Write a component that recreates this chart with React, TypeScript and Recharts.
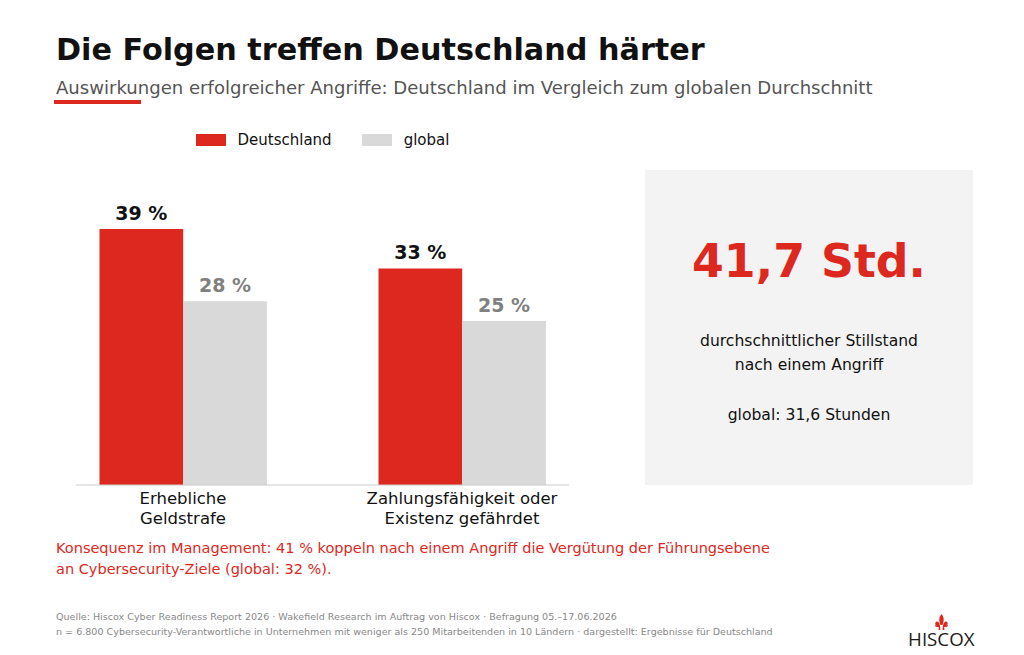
import { BarChart, Bar, XAxis, YAxis, Legend, LabelList } from "recharts";

const categories = ["Erhebliche\nGeldstrafe", "Zahlungsfähigkeit oder\nExistenz gefährdet"];
const germany = [39, 33];
const globalAvg = [28, 25];
const seriesNames = ["Deutschland", "global"];

const data = categories.map((name, i) => ({ name, de: germany[i], gl: globalAvg[i] }));

const RED = "#dc281e";
const GREY = "#d9d9d9";
const FONT = "'DejaVu Sans', sans-serif";

function CategoryTick({ x, y, payload }: any) {
  const lines = String(payload.value).split("\n");
  return (
    <text x={x} y={y} textAnchor="middle" fontSize={16.5} fontFamily={FONT} fill="#111">
      {lines.map((l, i) => (
        <tspan key={l} x={x} dy={i === 0 ? 11 : 20}>
          {l}
        </tspan>
      ))}
    </text>
  );
}

function LegendRow({ payload }: any) {
  return (
    <div style={{ display: "flex", fontFamily: FONT, fontSize: 15, color: "#111", lineHeight: "18px" }}>
      {(payload || []).map((p: any) => (
        <div key={p.value} style={{ display: "flex", alignItems: "center", marginRight: 30.5 }}>
          <span style={{ width: 30, height: 12, background: p.color, marginRight: 11.5 }} />
          {p.value}
        </div>
      ))}
    </div>
  );
}

function Text({ x, y, size, color, bold, children, center, width }: any) {
  return (
    <div
      style={{
        position: "absolute",
        left: x,
        top: y,
        width: width,
        fontFamily: FONT,
        fontSize: size,
        color,
        fontWeight: bold ? 700 : 400,
        textAlign: center ? "center" : "left",
        whiteSpace: "nowrap",
        lineHeight: 1.2,
      }}
    >
      {children}
    </div>
  );
}

export default function App() {
  return (
    <div style={{ position: "absolute", left: 0, top: 0, width: 1024, height: 655, background: "#fff", overflow: "hidden" }}>
      <Text x={56} y={32} size={30.25} color="#111" bold>Die Folgen treffen Deutschland härter</Text>
      <Text x={56} y={77} size={18.07} color="#555">Auswirkungen erfolgreicher Angriffe: Deutschland im Vergleich zum globalen Durchschnitt</Text>
      <div style={{ position: "absolute", left: 54, top: 99.5, width: 87, height: 4, background: RED }} />

      <div style={{ position: "absolute", left: 645, top: 170, width: 328, height: 315, background: "#f3f3f3" }} />
      <Text x={645} y={234} width={328} size={45.8} color={RED} bold center>41,7 Std.</Text>
      <Text x={645} y={332} width={328} size={15.6} color="#111" center>durchschnittlicher Stillstand</Text>
      <Text x={645} y={356} width={328} size={15.6} color="#111" center>nach einem Angriff</Text>
      <Text x={645} y={406} width={328} size={15.6} color="#111" center>global: 31,6 Stunden</Text>

      <div style={{ position: "absolute", left: 0, top: 0 }}>
        <BarChart
          width={1024}
          height={655}
          data={data}
          margin={{ top: 152, left: 76, right: 455, bottom: 0 }}
          barSize={83.7}
          barGap={0}
        >
          <XAxis
            dataKey="name"
            interval={0}
            padding={{ left: -32.5, right: -32.5 }}
            tick={<CategoryTick />}
            tickLine={false}
            axisLine={{ stroke: "#cccccc" }}
            height={170}
          />
          <YAxis hide domain={[0, 48]} />
          <Legend
            layout="horizontal"
            verticalAlign="top"
            align="left"
            wrapperStyle={{ position: "absolute", left: 196, top: 131, width: 400 }}
            content={<LegendRow />}
          />
          <Bar dataKey="de" name={seriesNames[0]} fill={RED} isAnimationActive={false}>
            <LabelList
              dataKey="de"
              position="top"
              offset={9}
              formatter={(v: any) => `${v} %`}
              style={{ fontFamily: FONT, fontSize: 19, fontWeight: 700, fill: "#111" }}
            />
          </Bar>
          <Bar dataKey="gl" name={seriesNames[1]} fill={GREY} isAnimationActive={false}>
            <LabelList
              dataKey="gl"
              position="top"
              offset={9}
              formatter={(v: any) => `${v} %`}
              style={{ fontFamily: FONT, fontSize: 19, fontWeight: 700, fill: "#808080" }}
            />
          </Bar>
        </BarChart>
      </div>

      <Text x={56} y={540} size={14.52} color={RED}>Konsequenz im Management: 41 % koppeln nach einem Angriff die Vergütung der Führungsebene</Text>
      <Text x={56} y={561} size={14.52} color={RED}>an Cybersecurity-Ziele (global: 32 %).</Text>
      <Text x={56} y={611} size={9.57} color="#888">Quelle: Hiscox Cyber Readiness Report 2026 · Wakefield Research im Auftrag von Hiscox · Befragung 05.–17.06.2026</Text>
      <Text x={56} y={626} size={9.57} color="#888">n = 6.800 Cybersecurity-Verantwortliche in Unternehmen mit weniger als 250 Mitarbeitenden in 10 Ländern · dargestellt: Ergebnisse für Deutschland</Text>

      <svg style={{ position: "absolute", left: 900, top: 610 }} width={84} height={40}>
        <path
          d="M41.5 4 C39 7 38.5 10 40.5 15 L42.5 15 C44.5 10 44 7 41.5 4 Z M40.3 20 C40.6 16.5 39.5 11.5 37 11.5 C35 11.5 34.5 15 36.8 15.4 C35.8 15.9 35.5 15 35 14.5 C34.6 16 35.6 17 37 17 L38.8 17 L38.5 20 Z M42.7 20 C42.4 16.5 43.5 11.5 46 11.5 C48 11.5 48.5 15 46.2 15.4 C47.2 15.9 47.5 15 48 14.5 C48.4 16 47.4 17 46 17 L44.2 17 L44.5 20 Z"
          fill={RED}
        />
        <text x={41.3} y={36} textAnchor="middle" fontFamily="'Open Sans', sans-serif" fontSize={18.7} fill="#1a1a1a">HISCOX</text>
      </svg>
    </div>
  );
}
